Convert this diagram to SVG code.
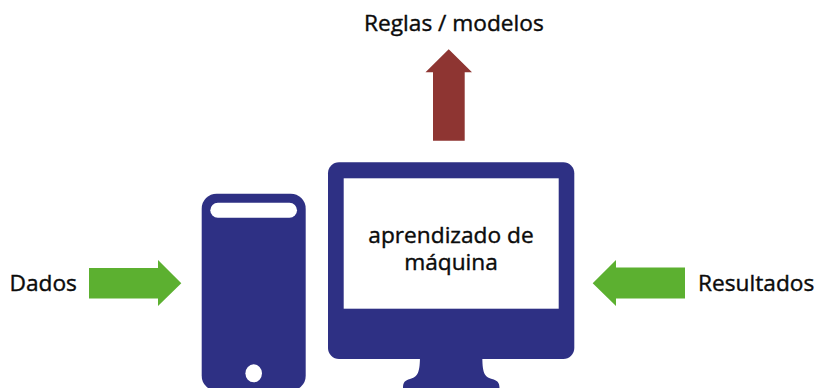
<svg xmlns="http://www.w3.org/2000/svg" width="816" height="388" viewBox="0 0 816 388">
<style>
.t{font-family:"Open Sans","Noto Sans",sans-serif;font-size:22.7px;font-weight:400;fill:#0b0b0b;stroke:#0b0b0b;stroke-width:.4px}
.m{text-anchor:middle}
.n{fill:#2e3084}
.w{fill:#fff}
.g{fill:#5cb030}
</style>
<rect width="816" height="388" fill="#fff"/>
<g id="connectors">
<polygon class="g" points="89,268 158,268 158,260 181.300,283.200 158,306 158,298.500 89,298.500"/>
<polygon class="g" points="685,267.500 616,267.500 616,260 592.700,283.200 616,306 616,298.500 685,298.500"/>
<polygon fill="#8e3532" points="433,140.700 433,72.300 425.500,72.300 448.700,49.300 472,72.300 464.700,72.300 464.700,140.700"/>
</g>
<g id="dados"><text class="t" x="9.500" y="290.500">Dados</text></g>
<g id="resultados"><text class="t" x="698" y="290.500">Resultados</text></g>
<g id="reglas"><text class="t" x="364" y="31">Reglas / modelos</text></g>
<g id="tower">
<rect class="n" x="201.700" y="193.700" width="104" height="197" rx="15"/>
<rect class="w" x="210.300" y="202.700" width="86.700" height="15" rx="7.500"/>
<ellipse class="w" cx="253.700" cy="373.300" rx="8.300" ry="9"/>
</g>
<g id="monitor">
<path class="n" d="M420 355C420 372 418 377 410 379C405 380.500 403 382 403 388H499.500C499.500 382 497 380.500 492 379C484 377 482.300 372 482.300 355Z"/>
<rect class="n" x="328" y="162.300" width="246.300" height="196.700" rx="11"/>
<rect class="w" x="343.700" y="178.300" width="215" height="130.400"/>
<text class="t m"><tspan x="451" y="243">aprendizado de</tspan><tspan x="451" y="269.500">máquina</tspan></text>
</g>
</svg>
